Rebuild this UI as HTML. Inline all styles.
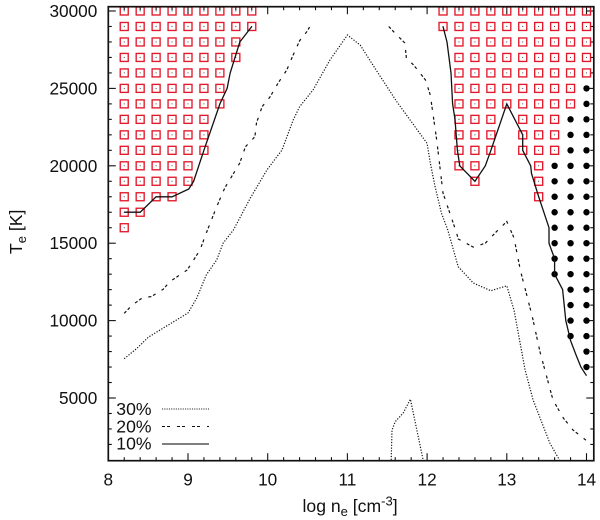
<!DOCTYPE html>
<html>
<head>
<meta charset="utf-8">
<title>Te vs log ne contour chart</title>
<style>
html,body{margin:0;padding:0;background:#fff;}
svg{display:block;}
text{font-family:"Liberation Sans",Arial,sans-serif;fill:#111;}
</style>
</head>
<body>
<svg id="chart" xmlns="http://www.w3.org/2000/svg" width="600" height="520" viewBox="0 0 600 520">
  <rect x="0" y="0" width="600" height="520" fill="#fff"/>
  <g id="ticks"></g>
  <g id="labels"></g>
  <g id="squares"></g>
  <g id="dots"></g>
  <g id="curves"></g>
  <rect x="108.3" y="6.7" width="485.5" height="454" fill="none" stroke="#111" stroke-width="1.7"/>
  <text x="302.5" y="512" font-size="17.6">log n<tspan font-size="13" dy="4">e</tspan><tspan dy="-4"> [cm</tspan><tspan font-size="13" dy="-6.5">-3</tspan><tspan dy="6.5">]</tspan></text>
  <text transform="translate(22,254) rotate(-90)" x="0" y="0" font-size="17.6">T<tspan font-size="13" dy="4">e</tspan><tspan dy="-4"> [K]</tspan></text>
  <g>
    <text x="151.5" y="415" font-size="17.6" text-anchor="end">30%</text>
    <line x1="162" y1="409" x2="209" y2="409" stroke="#222" stroke-width="1.1" stroke-dasharray="1.1 1.2"/>
    <text x="151.5" y="432.3" font-size="17.6" text-anchor="end">20%</text>
    <line x1="162" y1="426.5" x2="209" y2="426.5" stroke="#111" stroke-width="1.1" stroke-dasharray="3 2 3 7"/>
    <text x="151.5" y="449.5" font-size="17.6" text-anchor="end">10%</text>
    <line x1="162" y1="444" x2="209" y2="444" stroke="#333" stroke-width="1.3"/>
  </g>
</svg>
<script>
var xTickLabels = [8, 9, 10, 11, 12, 13, 14];
var yTickLabels = [5000, 10000, 15000, 20000, 25000, 30000];
var xMinorTicks = [8.2, 8.4, 8.6, 8.8, 9.2, 9.4, 9.6, 9.8, 10.2, 10.4, 10.6, 10.8, 11.2, 11.4, 11.6, 11.8, 12.2, 12.4, 12.6, 12.8, 13.2, 13.4, 13.6, 13.8];
var yMinorTicks = [2000, 3000, 4000, 6000, 7000, 8000, 9000, 11000, 12000, 13000, 14000, 16000, 17000, 18000, 19000, 21000, 22000, 23000, 24000, 26000, 27000, 28000, 29000];

var squareRows = [
  [30000, [8.2, 8.4, 8.6, 8.8, 9.0, 9.2, 9.4, 9.6, 9.8, 12.2, 12.4, 12.6, 12.8, 13.0, 13.2, 13.4, 13.6, 13.8, 14.0]],
  [29000, [8.2, 8.4, 8.6, 8.8, 9.0, 9.2, 9.4, 9.6, 9.8, 12.2, 12.4, 12.6, 12.8, 13.0, 13.2, 13.4, 13.6, 13.8, 14.0]],
  [28000, [8.2, 8.4, 8.6, 8.8, 9.0, 9.2, 9.4, 9.6, 12.4, 12.6, 12.8, 13.0, 13.2, 13.4, 13.6, 13.8, 14.0]],
  [27000, [8.2, 8.4, 8.6, 8.8, 9.0, 9.2, 9.4, 9.6, 12.4, 12.6, 12.8, 13.0, 13.2, 13.4, 13.6, 13.8, 14.0]],
  [26000, [8.2, 8.4, 8.6, 8.8, 9.0, 9.2, 9.4, 12.4, 12.6, 12.8, 13.0, 13.2, 13.4, 13.6, 13.8, 14.0]],
  [25000, [8.2, 8.4, 8.6, 8.8, 9.0, 9.2, 9.4, 12.4, 12.6, 12.8, 13.0, 13.2, 13.4, 13.6, 13.8]],
  [24000, [8.2, 8.4, 8.6, 8.8, 9.0, 9.2, 9.4, 12.4, 12.6, 12.8, 13.0, 13.2, 13.4, 13.6, 13.8]],
  [23000, [8.2, 8.4, 8.6, 8.8, 9.0, 9.2, 12.4, 12.6, 12.8, 13.2, 13.4, 13.6]],
  [22000, [8.2, 8.4, 8.6, 8.8, 9.0, 9.2, 12.4, 12.6, 12.8, 13.2, 13.4, 13.6]],
  [21000, [8.2, 8.4, 8.6, 8.8, 9.0, 9.2, 12.4, 12.6, 12.8, 13.2, 13.4, 13.6]],
  [20000, [8.2, 8.4, 8.6, 8.8, 9.0, 12.4, 12.6, 13.4]],
  [19000, [8.2, 8.4, 8.6, 8.8, 9.0, 12.6, 13.4]],
  [18000, [8.2, 8.4, 8.6, 8.8, 13.4]],
  [17000, [8.2, 8.4]],
  [16000, [8.2]]
];

var dotRows = [
  [25000, [14.0]],
  [24000, [14.0]],
  [23000, [13.8, 14.0]],
  [22000, [13.8, 14.0]],
  [21000, [13.8, 14.0]],
  [20000, [13.6, 13.8, 14.0]],
  [19000, [13.6, 13.8, 14.0]],
  [18000, [13.6, 13.8, 14.0]],
  [17000, [13.6, 13.8, 14.0]],
  [16000, [13.6, 13.8, 14.0]],
  [15000, [13.6, 13.8, 14.0]],
  [14000, [13.6, 13.8, 14.0]],
  [13000, [13.6, 13.8, 14.0]],
  [12000, [13.8, 14.0]],
  [11000, [13.8, 14.0]],
  [10000, [13.8, 14.0]],
  [9000, [13.8, 14.0]],
  [8000, [14.0]],
  [7000, [14.0]]
];

var level10Left = [[8.2,17000],[8.4,17000],[8.6,18000],[8.8,18000],[9.01,18500],[9.07,19000],[9.2,21000],[9.4,24000],[9.49,25000],[9.53,26000],[9.65,28000],[9.8,29000]];
var level10Right = [[12.2,29000],[12.25,28000],[12.3,26000],[12.32,24000],[12.35,23000],[12.38,21000],[12.41,20000],[12.6,19000],[12.73,20000],[12.8,21000],[13,24000],[13.2,22000],[13.2,21000],[13.3,20000],[13.31,19500],[13.4,18000],[13.53,16000],[13.53,15000],[13.6,14000],[13.6,13000],[13.7,12000],[13.74,10000],[13.8,8700],[13.87,7770],[13.93,7000],[14,6440]];
var level20Left = [[8.2,10470],[8.3,11000],[8.43,11480],[8.54,11550],[8.69,12030],[8.77,12510],[8.99,13270],[9.15,14560],[9.23,15660],[9.36,17360],[9.46,18560],[9.65,20180],[9.72,21230],[9.84,21880],[9.86,22770],[9.93,23820],[10.03,24460],[10.13,25340],[10.24,26190],[10.31,27050],[10.4,28080],[10.49,28660],[10.53,29000]];
var level20Right = [[11.52,29000],[11.58,28660],[11.72,27930],[11.74,26960],[11.83,26510],[11.98,25540],[12.04,24570],[12.12,21670],[12.2,18240],[12.37,15660],[12.39,15270],[12.58,14750],[12.73,15000],[12.87,15740],[13,16400],[13.09,15340],[13.17,13270],[13.32,10250],[13.42,7900],[13.58,4870],[13.71,3700],[13.83,2930],[14,2250]];
var level30Main = [[8.2,7540],[8.36,8210],[8.5,8920],[8.69,9520],[9,10490],[9.11,11460],[9.23,12950],[9.36,13920],[9.44,15000],[9.57,15850],[9.78,17900],[9.99,19730],[10.18,21020],[10.32,22960],[10.4,23820],[10.57,24900],[10.78,26830],[11,28450],[11.16,27800],[11.36,26190],[11.62,24140],[12,21450],[12.04,20180],[12.1,18650],[12.18,16950],[12.26,15850],[12.39,13480],[12.58,12430],[12.8,11930],[13,12250],[13.09,10680],[13.23,6810],[13.33,4870],[13.54,2090],[13.66,1000]];
var level30Bump = [[11.55,1000],[11.56,2930],[11.6,3470],[11.7,4030],[11.79,4920],[11.95,1000]];

var svgNS = 'http://www.w3.org/2000/svg';
function xScale(v) { return 108.3 + 79.7 * (v - 8); }
function yScale(v) { return 11 + (30000 - v) * 0.01548; }
function make(tag, parentId) {
  var el = document.createElementNS(svgNS, tag);
  document.getElementById(parentId).appendChild(el);
  return el;
}
function setLine(el, x1, y1, x2, y2) {
  el.setAttribute('x1', x1);
  el.setAttribute('y1', y1);
  el.setAttribute('x2', x2);
  el.setAttribute('y2', y2);
  el.setAttribute('stroke', '#111');
  el.setAttribute('stroke-width', '1.1');
}
var left = 108.3, right = 593.8, top_ = 6.7, bottom = 460.7;

xTickLabels.forEach(function (v) {
  var a = make('line', 'ticks');
  
  
  setLine(a, xScale(v), bottom, xScale(v), bottom - 7.5);
  var b = make('line', 'ticks');
  
  
  setLine(b, xScale(v), top_, xScale(v), top_ + 7.5);
  var t = make('text', 'labels');
  
  
  t.setAttribute('x', xScale(v));
  t.setAttribute('y', 485.5);
  t.setAttribute('font-size', '17.2');
  t.setAttribute('text-anchor', 'middle');
  t.textContent = String(v);
});
xMinorTicks.forEach(function (v) {
  var a = make('line', 'ticks');
  
  
  setLine(a, xScale(v), bottom, xScale(v), bottom - 3.5);
  var b = make('line', 'ticks');
  
  
  setLine(b, xScale(v), top_, xScale(v), top_ + 3.5);
});
yTickLabels.forEach(function (v) {
  var a = make('line', 'ticks');
  
  
  setLine(a, left, yScale(v), left + 7.5, yScale(v));
  var b = make('line', 'ticks');
  
  
  setLine(b, right, yScale(v), right - 7.5, yScale(v));
  var t = make('text', 'labels');
  
  
  t.setAttribute('x', 97.3);
  t.setAttribute('y', yScale(v) + 6);
  t.setAttribute('font-size', '17.2');
  t.setAttribute('text-anchor', 'end');
  t.textContent = String(v);
});
yMinorTicks.forEach(function (v) {
  var a = make('line', 'ticks');
  
  
  setLine(a, left, yScale(v), left + 3.5, yScale(v));
  var b = make('line', 'ticks');
  
  
  setLine(b, right, yScale(v), right - 3.5, yScale(v));
});

squareRows.forEach(function (row) {
  row[1].forEach(function (ne) {
    var cx = xScale(ne), cy = yScale(row[0]);
    var s = make('rect', 'squares');
    
    
    s.setAttribute('x', cx - 4);
    s.setAttribute('y', cy - 4);
    s.setAttribute('width', 8);
    s.setAttribute('height', 8);
    s.setAttribute('fill', 'none');
    s.setAttribute('stroke', '#e3192b');
    s.setAttribute('stroke-width', '1.35');
    var d = make('circle', 'squares');
    
    
    d.setAttribute('cx', cx);
    d.setAttribute('cy', cy);
    d.setAttribute('r', '0.55');
    d.setAttribute('fill', '#333');
  });
});

dotRows.forEach(function (row) {
  row[1].forEach(function (ne) {
    var d = make('circle', 'dots');
    
    
    d.setAttribute('cx', xScale(ne));
    d.setAttribute('cy', yScale(row[0]));
    d.setAttribute('r', '3.2');
    d.setAttribute('fill', '#000');
  });
});

function pathFor(points) {
  return points.map(function (p, i) {
    return (i ? 'L' : 'M') + xScale(p[0]).toFixed(1) + ' ' + yScale(p[1]).toFixed(1);
  }).join(' ');
}
function styleCurve(el, points, dash, width) {
  el.setAttribute('d', pathFor(points));
  el.setAttribute('fill', 'none');
  el.setAttribute('stroke', '#111');
  el.setAttribute('stroke-width', width);
  if (dash) { el.setAttribute('stroke-dasharray', dash); }
}
var c1 = make('path', 'curves');


styleCurve(c1, level10Left, '', '1.3');
var c2 = make('path', 'curves');


styleCurve(c2, level10Right, '', '1.3');
var c3 = make('path', 'curves');


styleCurve(c3, level20Left, '3 2 3 7', '1.2');
var c4 = make('path', 'curves');


styleCurve(c4, level20Right, '3 2 3 7', '1.2');
var c5 = make('path', 'curves');


styleCurve(c5, level30Main, '1.2 1.6', '1.2');
var c6 = make('path', 'curves');


styleCurve(c6, level30Bump, '1.2 1.6', '1.2');
</script>
</body>
</html>
